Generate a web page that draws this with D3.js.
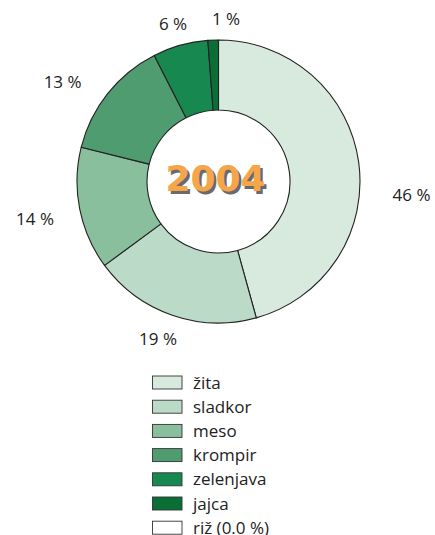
<!DOCTYPE html>
<html><head><meta charset="utf-8">
<script src="https://cdn.jsdelivr.net/npm/d3@7"></script>
<style>body{margin:0;background:#fff;overflow:hidden}svg{display:block}</style>
</head><body>
<script>
const categories = ["žita","sladkor","meso","krompir","zelenjava","jajca","riž"];
const values = [45.7, 19.2, 14.0, 13.6, 6.3, 1.2, 0.0];
const valueLabels = ["46 %","19 %","14 %","13 %","6 %","1 %",""];
const legendLabels = ["žita","sladkor","meso","krompir","zelenjava","jajca","riž (0.0 %)"];
const colors = ["#d8eade","#bcdac8","#89bf9d","#509c71","#178850","#0b6e37","#ffffff"];
const title = "2004";

// layout (not data)
const W = 435, H = 535, cx = 218.5, cy = 181.5, rOut = 141.5, rIn = 71.5, rLab = 175;
const labelNudge = [[19.6,37.1],[-3.3,-8.4],[-11.8,3.6],[-19,8.9],[1.7,11],[14.1,11.9],[0,0]];

const svg = d3.select("body").append("svg").attr("width", W).attr("height", H);
const data = categories.map((c,i)=>({c, v: values[i], i}));
const pie = d3.pie().value(d=>d.v).sort(null);
const arcs = pie(data);
const arc = d3.arc().innerRadius(rIn).outerRadius(rOut);
const g = svg.append("g").attr("transform", `translate(${cx},${cy})`);
g.selectAll("path").data(arcs.filter(a=>a.data.v>0)).join("path")
  .attr("d", arc).attr("fill", d=>colors[d.data.i])
  .attr("stroke", "#222").attr("stroke-width", 1.1).attr("stroke-linejoin","round");

g.selectAll("text.lab").data(arcs.filter(a=>a.data.v>0)).join("text")
  .attr("class","lab")
  .attr("x", d=>{const a=(d.startAngle+d.endAngle)/2; return rLab*Math.sin(a)+labelNudge[d.data.i][0];})
  .attr("y", d=>{const a=(d.startAngle+d.endAngle)/2; return -rLab*Math.cos(a)+labelNudge[d.data.i][1];})
  .attr("dy","0.36em").attr("text-anchor","middle")
  .attr("font-family","'Open Sans', sans-serif").attr("font-size",17).attr("fill","#222")
  .text(d=>valueLabels[d.data.i]);

// center title with shadow
g.append("text").attr("x",-3+2.5).attr("y",-3+2.5).attr("dy","0.36em").attr("text-anchor","middle")
  .attr("font-family","'DejaVu Sans', sans-serif").attr("font-weight","bold").attr("font-size",36)
  .attr("fill","#6a6a6a").text(title);
g.append("text").attr("x",-3).attr("y",-3).attr("dy","0.36em").attr("text-anchor","middle")
  .attr("font-family","'DejaVu Sans', sans-serif").attr("font-weight","bold").attr("font-size",36)
  .attr("fill","#f5a54a").text(title);

// legend
const ly = d3.scaleLinear().domain([0,1]).range([376, 400.2]);
const lg = svg.append("g");
const rows = lg.selectAll("g").data(legendLabels).join("g")
  .attr("transform",(d,i)=>`translate(152.5,${ly(i)})`);
rows.append("rect").attr("width",29.5).attr("height",13)
  .attr("fill",(d,i)=>colors[i]).attr("stroke","#333").attr("stroke-width",0.9);
rows.append("text").attr("x",40.5).attr("y",6.5).attr("dy","0.36em")
  .attr("font-family","'Open Sans', sans-serif").attr("font-size",17).attr("fill","#222")
  .text(d=>d);
</script>
</body></html>
